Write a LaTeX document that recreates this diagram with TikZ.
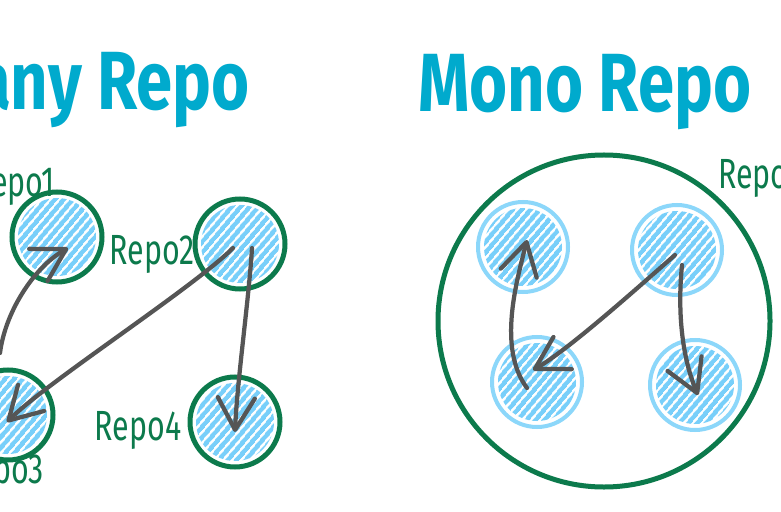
\documentclass[tikz,border=0pt]{standalone}
\usepackage{fontspec}
\setmainfont{Fira Sans}
\usetikzlibrary{arrows.meta,calc,patterns.meta}
\definecolor{repogreen}{RGB}{12,122,76}
\definecolor{scribble}{RGB}{120,207,250}
\definecolor{ringblue}{RGB}{140,215,250}
\definecolor{titlecyan}{RGB}{0,170,205}
\definecolor{arrowgray}{RGB}{85,85,85}

\begin{document}
\begin{tikzpicture}[x=0.2mm, y=-0.2mm,
  repo/.style={circle, draw=repogreen, line width=1mm, minimum size=18mm, inner sep=0pt,
               path picture={\fill[pattern={Lines[angle=50,distance=1.4mm,line width=1mm]},
                 pattern color=scribble] (path picture bounding box.center) circle (7.8mm);}},
  sub/.style={repo, draw=ringblue, line width=0.8mm},
  lbl/.style={text=repogreen, font=\fontsize{24}{24}\selectfont, xscale=0.72,
              transform shape, inner sep=0pt},
  title/.style={text=titlecyan, font=\bfseries\fontsize{47}{47}\selectfont, xscale=0.79,
                transform shape, inner sep=0pt},
  arr/.style={draw=arrowgray, line width=0.85mm, line cap=round,
              -{Straight Barb[length=6.4mm, width=7.4mm, round]}}]
\useasboundingbox (0,0) rectangle (781,512);
\clip (0,0) rectangle (781,512);
\fill[white] (0,0) rectangle (781,512);
% titles
\node[title, anchor=base east] (many) at (250,110) {Many Repo};
\node[title, anchor=base west] (monot) at (418,112) {Mono Repo};
% many repo
\node[repo] (r1) at (57,237) {};
\node[repo] (r2) at (240,244) {};
\node[repo] (r3) at (8,415) {};
\node[repo] (r4) at (235,422) {};
\node[lbl] (l1) at (14,186) {Repo1};
\node[lbl] (l2) at (152,254) {Repo2};
\node[lbl, anchor=east] (l3) at (44,473) {Repo3};
\node[lbl] (l4) at (138,430) {Repo4};
\draw[arr] ($(r3)+(-8,-62)$) .. controls +(5,-40) and +(-35,20) .. ($(r1)+(11,11)$);
\draw[arr] ($(r2)+(-7,4)$) .. controls +(-40,40) and +(40,-40) .. ($(r3)+(-1,7)$);
\draw[arr] ($(r2)+(12,4)$) .. controls +(-3,50) and +(2,-50) .. ($(r4)+(0,10)$);
% mono repo
\node[circle, draw=repogreen, line width=1mm, minimum size=66.4mm] (mono) at (604,321) {};
\node[lbl, anchor=west] (lm) at (718,178) {Repo};
\node[sub] (m1) at (523,247) {};
\node[sub] (m2) at (677,250) {};
\node[sub] (m3) at (537,382) {};
\node[sub] (m4) at (695,385) {};
\draw[arr] ($(m3)+(-10,6)$) .. controls +(-30,-40) and +(-10,40) .. ($(m1)+(4,-7)$);
\draw[arr] ($(m2)+(-2,5)$) .. controls +(-40,35) and +(35,-20) .. ($(m3)+(-4,-12)$);
\draw[arr] ($(m2)+(5,15)$) .. controls +(-5,50) and +(-15,-35) .. ($(m4)+(3,10)$);
\end{tikzpicture}
\end{document}
